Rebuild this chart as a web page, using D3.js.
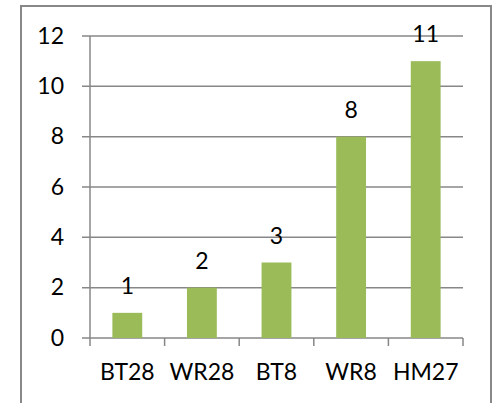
<!DOCTYPE html>
<html><head><meta charset="utf-8">
<script src="https://cdn.jsdelivr.net/npm/d3@7"></script>
<style>
html,body{margin:0;padding:0;background:#fff;}
text{font-family:Lato,"Open Sans",sans-serif;fill:#000;}
</style></head>
<body><svg id="c" width="494" height="403"></svg>
<script>
const categories = ["BT28","WR28","BT8","WR8","HM27"];
const values = [1,2,3,8,11];
const yTicks = [0,2,4,6,8,10,12];

(function(){
const svg = d3.select("#c");
const pL = 90, pR = 463, pT = 36, pB = 338;

// outer border
svg.append("rect").attr("x",21).attr("y",6).attr("width",470).attr("height",420)
  .attr("fill","#fff").attr("stroke","#888").attr("stroke-width",2);

const x = d3.scaleBand().domain(categories).range([pL,pR]).paddingInner(0.6).paddingOuter(0.3);
const y = d3.scaleLinear().domain([0,12]).range([pB,pT]);

// gridlines
svg.append("g").selectAll("line").data(yTicks).join("line")
  .attr("x1",pL-8).attr("x2",pR)
  .attr("y1",d=>y(d)).attr("y2",d=>y(d))
  .attr("stroke","#878787").attr("stroke-width",1.5);

// y axis line
svg.append("line").attr("x1",pL).attr("x2",pL).attr("y1",pT).attr("y2",pB)
  .attr("stroke","#878787").attr("stroke-width",1.5);

// y labels
svg.append("g").selectAll("text").data(yTicks).join("text")
  .attr("x",64).attr("y",d=>y(d)+7.8).attr("text-anchor","end")
  .attr("font-size",23).text(d=>d);

// bars
svg.append("g").selectAll("rect").data(values).join("rect")
  .attr("x",(d,i)=>x(categories[i])).attr("width",x.bandwidth())
  .attr("y",d=>y(d)).attr("height",d=>y(0)-y(d))
  .attr("fill","#9BBB59");

// x axis ticks
const step = x.step();
const tickPos = d3.range(categories.length+1).map(i=>pL+i*step);
svg.append("g").selectAll("line").data(tickPos).join("line")
  .attr("x1",d=>d).attr("x2",d=>d).attr("y1",pB).attr("y2",pB+8)
  .attr("stroke","#878787").attr("stroke-width",1.5);

// x labels
svg.append("g").selectAll("text").data(categories).join("text")
  .attr("x",d=>x(d)+x.bandwidth()/2).attr("y",380).attr("text-anchor","middle")
  .attr("font-size",23).text(d=>d);

// value labels
svg.append("g").selectAll("text").data(values).join("text")
  .attr("x",(d,i)=>x(categories[i])+x.bandwidth()/2).attr("y",d=>y(d)-19)
  .attr("text-anchor","middle").attr("font-size",23).text(d=>d);
})();
</script></body></html>
